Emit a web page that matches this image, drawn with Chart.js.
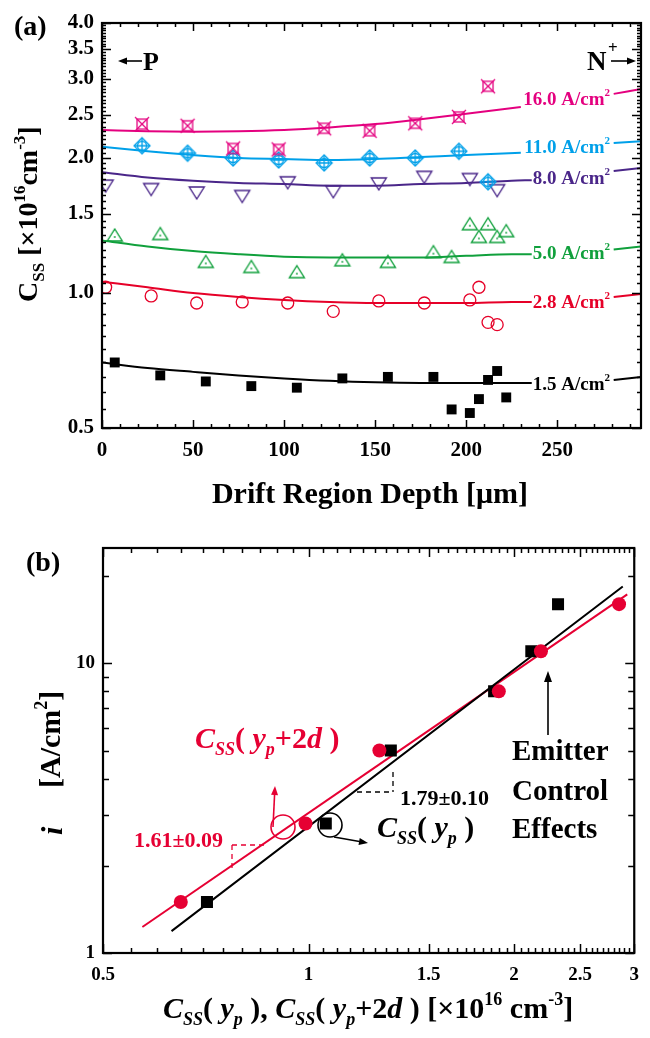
<!DOCTYPE html>
<html>
<head>
<meta charset="utf-8">
<script src="https://cdn.jsdelivr.net/npm/chart.js@4.4.1/dist/chart.umd.min.js"></script>
<style>
  html, body { margin: 0; padding: 0; background: #fff; }
  #wrap { position: relative; width: 650px; height: 1038px; }
  #ca { position: absolute; left: 0; top: 0; }
  #cb { position: absolute; left: 0; top: 520px; }
</style>
</head>
<body>
<div id="wrap">
  <canvas id="ca" width="650" height="520"></canvas>
  <canvas id="cb" width="650" height="518"></canvas>
</div>
<script>
// ---- panel (a): C_SS vs drift region depth, one series per current density ----
var xTicksA = [0, 50, 100, 150, 200, 250];
var yTicksA = [0.5, 1.0, 1.5, 2.0, 2.5, 3.0, 3.5, 4.0];
var yTickLabelsA = ['0.5', '1.0', '1.5', '2.0', '2.5', '3.0', '3.5', '4.0'];
var densLabels = ['16.0', '11.0', '8.0', '5.0', '2.8', '1.5'];

var x16 = [22, 47, 72, 97, 122, 147, 172, 196, 212];
var y16 = [2.38, 2.36, 2.10, 2.09, 2.33, 2.30, 2.39, 2.47, 2.89];
var x11 = [22, 47, 72, 97, 122, 147, 172, 196, 212];
var y11 = [2.13, 2.05, 2.00, 1.98, 1.95, 2.00, 2.00, 2.07, 1.77];
var x8 = [2, 27, 52, 77, 102, 127, 152, 177, 202, 217];
var y8 = [1.74, 1.71, 1.68, 1.65, 1.77, 1.69, 1.76, 1.82, 1.80, 1.70];
var x5 = [7, 32, 57, 82, 107, 132, 157, 182, 192, 202, 207, 212, 217, 222];
var y5 = [1.34, 1.35, 1.17, 1.14, 1.11, 1.18, 1.17, 1.23, 1.20, 1.42, 1.33, 1.42, 1.33, 1.37];
var x28 = [2, 27, 52, 77, 102, 127, 152, 177, 202, 207, 212, 217];
var y28 = [1.03, 0.985, 0.95, 0.955, 0.95, 0.91, 0.96, 0.95, 0.965, 1.03, 0.86, 0.85];
var x15 = [7, 32, 57, 82, 107, 132, 157, 182, 192, 202, 207, 212, 217, 222];
var y15 = [0.70, 0.655, 0.635, 0.62, 0.615, 0.645, 0.65, 0.65, 0.55, 0.54, 0.58, 0.64, 0.67, 0.585];

// fitted curves, broken where the density label sits
var fitXwide = [0, 25, 50, 75, 100, 125, 150, 175, 200, 230, 255, 281, 296];
var fitXnarrow = [0, 25, 50, 75, 100, 125, 150, 175, 200, 225, 236, 255, 281, 296];
var fit16 = [2.31, 2.295, 2.29, 2.295, 2.31, 2.34, 2.38, 2.44, 2.51, 2.60, null, 2.78, 2.85];
var fit11 = [2.12, 2.07, 2.03, 2.00, 1.99, 1.98, 1.99, 2.01, 2.03, 2.055, null, 2.16, 2.18];
var fit8 = [1.86, 1.81, 1.78, 1.76, 1.75, 1.735, 1.735, 1.75, 1.76, 1.78, 1.785, null, 1.87, 1.90];
var fit5 = [1.31, 1.27, 1.24, 1.22, 1.205, 1.20, 1.20, 1.20, 1.21, 1.22, 1.22, null, 1.25, 1.27];
var fit28 = [1.06, 1.03, 1.00, 0.98, 0.965, 0.955, 0.95, 0.95, 0.95, 0.955, 0.955, null, 0.98, 0.995];
var fit15 = [0.70, 0.68, 0.667, 0.655, 0.645, 0.637, 0.632, 0.63, 0.63, 0.63, 0.63, null, 0.64, 0.65];

// ---- panel (b): current density vs C_SS (log-log) ----
var xTicksB = [0.5, 1, 1.5, 2, 2.5, 3];
var xTickLabelsB = ['0.5', '1', '1.5', '2', '2.5', '3'];
var yTicksB = [1, 10];
var iDens = [1.5, 2.8, 5.0, 8.0, 11.0, 16.0];
var cssYp = [0.71, 1.06, 1.32, 1.87, 2.12, 2.32];
var cssYp2d = [0.65, 0.99, 1.27, 1.90, 2.19, 2.85];
var fitYpX = [0.63, 2.886];
var fitYpI = [1.19, 18.4];
var fit2dX = [0.571, 2.93];
var fit2dI = [1.23, 17.3];

var SERIF = '"Liberation Serif", "Times New Roman", serif';
var C16 = '#e4007f', C11 = '#00a0e9', C8 = '#4a2689', C5 = '#10a03c', C28 = '#e60028', C15 = '#000000';
var RED = '#e60033';

function f(style, size) { return style + ' ' + size + 'px ' + SERIF; }

function range(a, b, step) {
  var out = [];
  for (var v = a; v <= b + 1e-9; v += step) out.push(Math.round(v * 1000) / 1000);
  return out;
}

function pts(xs, ys) {
  return xs.map(function (x, i) { return { x: x, y: ys[i] }; });
}

function mk(size, fn) {
  var c = document.createElement('canvas');
  c.width = c.height = size;
  var g = c.getContext('2d');
  fn(g, size / 2);
  return c;
}

var mk16 = mk(20, function (g, c) {
  g.strokeStyle = C16; g.lineWidth = 1.3;
  g.strokeRect(c - 5, c - 5, 10, 10);
  g.beginPath();
  g.moveTo(c - 7, c - 7); g.lineTo(c + 7, c + 7);
  g.moveTo(c + 7, c - 7); g.lineTo(c - 7, c + 7);
  g.stroke();
});
var mk11 = mk(20, function (g, c) {
  g.strokeStyle = C11; g.lineWidth = 1.3;
  g.beginPath();
  g.moveTo(c, c - 8); g.lineTo(c + 8, c); g.lineTo(c, c + 8); g.lineTo(c - 8, c); g.closePath();
  g.stroke();
  g.beginPath(); g.arc(c, c, 4.5, 0, Math.PI * 2); g.stroke();
  g.beginPath();
  g.moveTo(c - 8, c); g.lineTo(c + 8, c);
  g.moveTo(c, c - 8); g.lineTo(c, c + 8);
  g.stroke();
});
var mk8 = mk(20, function (g, c) {
  g.strokeStyle = C8; g.lineWidth = 1.4;
  g.beginPath();
  g.moveTo(c - 7.5, c - 5); g.lineTo(c + 7.5, c - 5); g.lineTo(c, c + 7); g.closePath();
  g.stroke();
});
var mk5 = mk(20, function (g, c) {
  g.strokeStyle = C5; g.fillStyle = C5; g.lineWidth = 1.4;
  g.beginPath();
  g.moveTo(c - 7.5, c + 5); g.lineTo(c + 7.5, c + 5); g.lineTo(c, c - 7); g.closePath();
  g.stroke();
  g.beginPath(); g.arc(c, c + 1, 0.9, 0, Math.PI * 2); g.fill();
});

function fitDs(xs, ys, color) {
  return {
    data: pts(xs, ys), showLine: true, borderColor: color, borderWidth: 2,
    pointRadius: 0, cubicInterpolationMode: 'monotone', spanGaps: false, order: 2
  };
}
function ptDs(xs, ys, style, color, r, fill, bw) {
  return {
    data: pts(xs, ys), showLine: false, pointStyle: style, pointRadius: r,
    pointBorderColor: color, pointBackgroundColor: fill, pointBorderWidth: bw, order: 1
  };
}

function drawRich(ctx, parts, x, y, rotate, color) {
  ctx.save();
  ctx.translate(x, y);
  if (rotate) ctx.rotate(-Math.PI / 2);
  ctx.fillStyle = color;
  ctx.textAlign = 'left';
  ctx.textBaseline = 'alphabetic';
  var cx = 0;
  parts.forEach(function (p) {
    ctx.font = p.f;
    ctx.fillText(p.t, cx, p.dy || 0);
    cx += ctx.measureText(p.t).width;
  });
  ctx.restore();
  return cx;
}
function richWidth(ctx, parts) {
  var w = 0;
  ctx.save();
  parts.forEach(function (p) { ctx.font = p.f; w += ctx.measureText(p.t).width; });
  ctx.restore();
  return w;
}

function arrow(ctx, x1, y1, x2, y2, color, hl, hw) {
  var a = Math.atan2(y2 - y1, x2 - x1);
  ctx.save();
  ctx.strokeStyle = color; ctx.fillStyle = color; ctx.lineWidth = 1.6;
  ctx.beginPath(); ctx.moveTo(x1, y1);
  ctx.lineTo(x2 - Math.cos(a) * hl * 0.8, y2 - Math.sin(a) * hl * 0.8); ctx.stroke();
  ctx.beginPath();
  ctx.moveTo(x2, y2);
  ctx.lineTo(x2 - Math.cos(a) * hl - Math.sin(a) * hw, y2 - Math.sin(a) * hl + Math.cos(a) * hw);
  ctx.lineTo(x2 - Math.cos(a) * hl + Math.sin(a) * hw, y2 - Math.sin(a) * hl - Math.cos(a) * hw);
  ctx.closePath(); ctx.fill();
  ctx.restore();
}

function dashed(ctx, segs, color) {
  ctx.save();
  ctx.strokeStyle = color; ctx.lineWidth = 1.3; ctx.setLineDash([5, 4]);
  segs.forEach(function (s) {
    ctx.beginPath(); ctx.moveTo(s[0], s[1]); ctx.lineTo(s[2], s[3]); ctx.stroke();
  });
  ctx.restore();
}

// frame + inward ticks on all four sides
function frameAndTicks(chart, xMajor, xMinor, yMajor, yMinor, lens) {
  var ctx = chart.ctx, a = chart.chartArea;
  var xs = chart.scales.x, ys = chart.scales.y;
  ctx.save();
  ctx.strokeStyle = '#000';
  ctx.lineWidth = 1.5;
  ctx.beginPath();
  function xt(vals, len) {
    vals.forEach(function (v) {
      var p = Math.round(xs.getPixelForValue(v)) + 0.5;
      if (p < a.left - 1 || p > a.right + 1) return;
      ctx.moveTo(p, a.bottom); ctx.lineTo(p, a.bottom - len);
      ctx.moveTo(p, a.top); ctx.lineTo(p, a.top + len);
    });
  }
  function yt(vals, len) {
    vals.forEach(function (v) {
      var p = Math.round(ys.getPixelForValue(v)) + 0.5;
      if (p < a.top - 1 || p > a.bottom + 1) return;
      ctx.moveTo(a.left, p); ctx.lineTo(a.left + len, p);
      ctx.moveTo(a.right, p); ctx.lineTo(a.right - len, p);
    });
  }
  xt(xMinor, lens[1]); xt(xMajor, lens[0]);
  yt(yMinor, lens[3]); yt(yMajor, lens[2]);
  ctx.stroke();
  ctx.lineWidth = 2.2;
  ctx.strokeRect(a.left, a.top, a.right - a.left, a.bottom - a.top);
  ctx.restore();
}

var B18 = f('bold', 18), B30 = f('bold', 30), BI30 = f('italic bold', 30), BI18 = f('italic bold', 18);

var plugA = {
  id: 'decorA',
  afterDraw: function (chart) {
    var ctx = chart.ctx;
    frameAndTicks(chart, xTicksA, range(0, 290, 10), yTicksA, range(0.5, 4, 0.05), [8, 4, 9, 4]);

    // density labels, right aligned just left of the curve's second piece
    var labelY = [2.71, 2.12, 1.805, 1.228, 0.955, 0.627];
    var labelC = [C16, C11, C8, C5, C28, C15];
    var ys = chart.scales.y, xs = chart.scales.x;
    var right = xs.getPixelForValue(279);
    densLabels.forEach(function (d, i) {
      var parts = [{ t: d + ' A/cm', f: f('bold', 19) }, { t: '2', f: f('bold', 11), dy: -9 }];
      var w = richWidth(ctx, parts);
      drawRich(ctx, parts, right - w, ys.getPixelForValue(labelY[i]) + 6, false, labelC[i]);
    });

    // panel letter and P / N+ markers
    drawRich(ctx, [{ t: '(a)', f: f('bold', 28) }], 14, 35, false, '#000');
    arrow(ctx, 142, 61, 118, 61, '#000', 9, 3.5);
    drawRich(ctx, [{ t: 'P', f: f('bold', 26) }], 143, 70, false, '#000');
    drawRich(ctx, [{ t: 'N', f: f('bold', 27) }], 587, 70, false, '#000');
    drawRich(ctx, [{ t: '+', f: f('bold', 17) }], 608, 53, false, '#000');
    arrow(ctx, 611, 61, 636, 61, '#000', 9, 3.5);

    // axis titles
    var xt = [{ t: 'Drift Region Depth [\u03bcm]', f: B30 }];
    drawRich(ctx, xt, 370 - richWidth(ctx, xt) / 2, 503, false, '#000');
    drawRich(ctx, [
      { t: 'C', f: f('bold', 28) }, { t: 'SS', f: f('bold', 17), dy: 7 },
      { t: ' [\u00d710', f: f('bold', 28) }, { t: '16', f: f('bold', 17), dy: -12 },
      { t: 'cm', f: f('bold', 28) }, { t: '-3', f: f('bold', 17), dy: -12 },
      { t: ']', f: f('bold', 28) }
    ], 37, 302, true, '#000');
  }
};

var plugB = {
  id: 'decorB',
  afterDraw: function (chart) {
    var ctx = chart.ctx;
    frameAndTicks(chart, xTicksB, range(0.55, 2.95, 0.05), yTicksB, [2, 3, 4, 5, 6, 7, 8, 9, 20], [9, 5, 9, 6]);

    drawRich(ctx, [{ t: '(b)', f: f('bold', 28) }], 26, 51, false, '#000');

    // red annotation: C_SS(y_p+2d)
    drawRich(ctx, [
      { t: 'C', f: BI30 }, { t: 'SS', f: BI18, dy: 7 }, { t: '( ', f: B30 },
      { t: 'y', f: BI30 }, { t: 'p', f: BI18, dy: 7 }, { t: '+2', f: B30 },
      { t: 'd', f: BI30 }, { t: ' )', f: B30 }
    ], 195, 228, false, RED);
    ctx.save();
    ctx.strokeStyle = RED; ctx.lineWidth = 1.6;
    ctx.beginPath(); ctx.arc(283, 307, 12, 0, Math.PI * 2); ctx.stroke();
    ctx.restore();
    arrow(ctx, 273, 307, 275, 266, RED, 9, 3.5);
    dashed(ctx, [[232, 325, 268, 325], [232, 325, 232, 348]], RED);
    var t161 = [{ t: '1.61\u00b10.09', f: f('bold', 22) }];
    drawRich(ctx, t161, 223 - richWidth(ctx, t161), 327, false, RED);

    // black annotation: C_SS(y_p)
    ctx.save();
    ctx.strokeStyle = '#000'; ctx.lineWidth = 1.6;
    ctx.beginPath(); ctx.arc(330, 305, 12, 0, Math.PI * 2); ctx.stroke();
    ctx.restore();
    arrow(ctx, 334, 317, 368, 323, '#000', 9, 3.5);
    dashed(ctx, [[357, 272, 393, 272], [393, 252, 393, 272]], '#000');
    drawRich(ctx, [{ t: '1.79\u00b10.10', f: f('bold', 22) }], 400, 285, false, '#000');
    drawRich(ctx, [
      { t: 'C', f: BI30 }, { t: 'SS', f: BI18, dy: 7 }, { t: '( ', f: B30 },
      { t: 'y', f: BI30 }, { t: 'p', f: BI18, dy: 7 }, { t: ' )', f: B30 }
    ], 377, 317, false, '#000');

    // emitter control effects
    arrow(ctx, 548, 215, 548, 151, '#000', 11, 4);
    drawRich(ctx, [{ t: 'Emitter', f: f('bold', 29) }], 512, 240, false, '#000');
    drawRich(ctx, [{ t: 'Control', f: f('bold', 29) }], 512, 280, false, '#000');
    drawRich(ctx, [{ t: 'Effects', f: f('bold', 29) }], 512, 318, false, '#000');

    // axis titles
    drawRich(ctx, [
      { t: 'C', f: BI30 }, { t: 'SS', f: BI18, dy: 7 }, { t: '( ', f: B30 },
      { t: 'y', f: BI30 }, { t: 'p', f: BI18, dy: 7 }, { t: ' ), ', f: B30 },
      { t: 'C', f: BI30 }, { t: 'SS', f: BI18, dy: 7 }, { t: '( ', f: B30 },
      { t: 'y', f: BI30 }, { t: 'p', f: BI18, dy: 7 }, { t: '+2', f: B30 },
      { t: 'd', f: BI30 }, { t: ' ) [\u00d710', f: B30 }, { t: '16', f: B18, dy: -13 },
      { t: ' cm', f: B30 }, { t: '-3', f: B18, dy: -13 }, { t: ']', f: B30 }
    ], 163, 498, false, '#000');
    drawRich(ctx, [{ t: 'i', f: BI30 }], 62, 315, true, '#000');
    drawRich(ctx, [
      { t: '[A/cm', f: B30 }, { t: '2', f: B18, dy: -13 }, { t: ']', f: B30 }
    ], 60, 268, true, '#000');
  }
};

var tickFontA = { family: SERIF, size: 21, weight: 'bold' };
var tickFontB = { family: SERIF, size: 19, weight: 'bold' };

new Chart(document.getElementById('ca'), {
  type: 'scatter',
  data: {
    datasets: [
      ptDs(x16, y16, mk16, C16, 8, 'rgba(0,0,0,0)', 1),
      ptDs(x11, y11, mk11, C11, 8, 'rgba(0,0,0,0)', 1),
      ptDs(x8, y8, mk8, C8, 8, 'rgba(0,0,0,0)', 1),
      ptDs(x5, y5, mk5, C5, 8, 'rgba(0,0,0,0)', 1),
      ptDs(x28, y28, 'circle', C28, 6, 'rgba(0,0,0,0)', 1.3),
      ptDs(x15, y15, 'rect', C15, 7, C15, 0),
      fitDs(fitXwide, fit16, C16),
      fitDs(fitXwide, fit11, C11),
      fitDs(fitXnarrow, fit8, C8),
      fitDs(fitXnarrow, fit5, C5),
      fitDs(fitXnarrow, fit28, C28),
      fitDs(fitXnarrow, fit15, C15)
    ]
  },
  options: {
    responsive: false, animation: false, devicePixelRatio: 1,
    layout: { padding: { left: 0, right: 4, top: 23, bottom: 0 } },
    plugins: { legend: { display: false }, tooltip: { enabled: false } },
    scales: {
      x: {
        type: 'linear', min: 0, max: 296,
        grid: { display: false, drawTicks: false }, border: { display: false },
        ticks: { font: tickFontA, color: '#000', padding: 10, autoSkip: false, maxRotation: 0 },
        afterBuildTicks: function (s) { s.ticks = xTicksA.map(function (v) { return { value: v }; }); },
        afterFit: function (s) { s.height = 92; }
      },
      y: {
        type: 'logarithmic', min: 0.5, max: 4,
        grid: { display: false, drawTicks: false }, border: { display: false },
        ticks: {
          font: tickFontA, color: '#000', padding: 8, autoSkip: false,
          callback: function (v, i) { return yTickLabelsA[i]; }
        },
        afterBuildTicks: function (s) { s.ticks = yTicksA.map(function (v) { return { value: v }; }); },
        afterFit: function (s) { s.width = 102; }
      }
    }
  },
  plugins: [plugA]
});

new Chart(document.getElementById('cb'), {
  type: 'scatter',
  data: {
    datasets: [
      ptDs(cssYp2d, iDens, 'circle', RED, 7, RED, 0),
      ptDs(cssYp, iDens, 'rect', '#000', 8.5, '#000', 0),
      fitDs(fitYpX, fitYpI, '#000'),
      fitDs(fit2dX, fit2dI, RED)
    ]
  },
  options: {
    responsive: false, animation: false, devicePixelRatio: 1,
    layout: { padding: { left: 0, right: 5, top: 28, bottom: 0 } },
    plugins: { legend: { display: false }, tooltip: { enabled: false } },
    scales: {
      x: {
        type: 'logarithmic', min: 0.5, max: 3,
        grid: { display: false, drawTicks: false }, border: { display: false },
        ticks: {
          font: tickFontB, color: '#000', padding: 11, autoSkip: false, maxRotation: 0,
          callback: function (v, i) { return xTickLabelsB[i]; }
        },
        afterBuildTicks: function (s) { s.ticks = xTicksB.map(function (v) { return { value: v }; }); },
        afterFit: function (s) { s.height = 85; }
      },
      y: {
        type: 'logarithmic', min: 1, max: 25,
        grid: { display: false, drawTicks: false }, border: { display: false },
        ticks: {
          font: tickFontB, color: '#000', padding: 8, autoSkip: false,
          callback: function (v) { return String(v); }
        },
        afterBuildTicks: function (s) { s.ticks = yTicksB.map(function (v) { return { value: v }; }); },
        afterFit: function (s) { s.width = 103; }
      }
    }
  },
  plugins: [plugB]
});
</script>
</body>
</html>
